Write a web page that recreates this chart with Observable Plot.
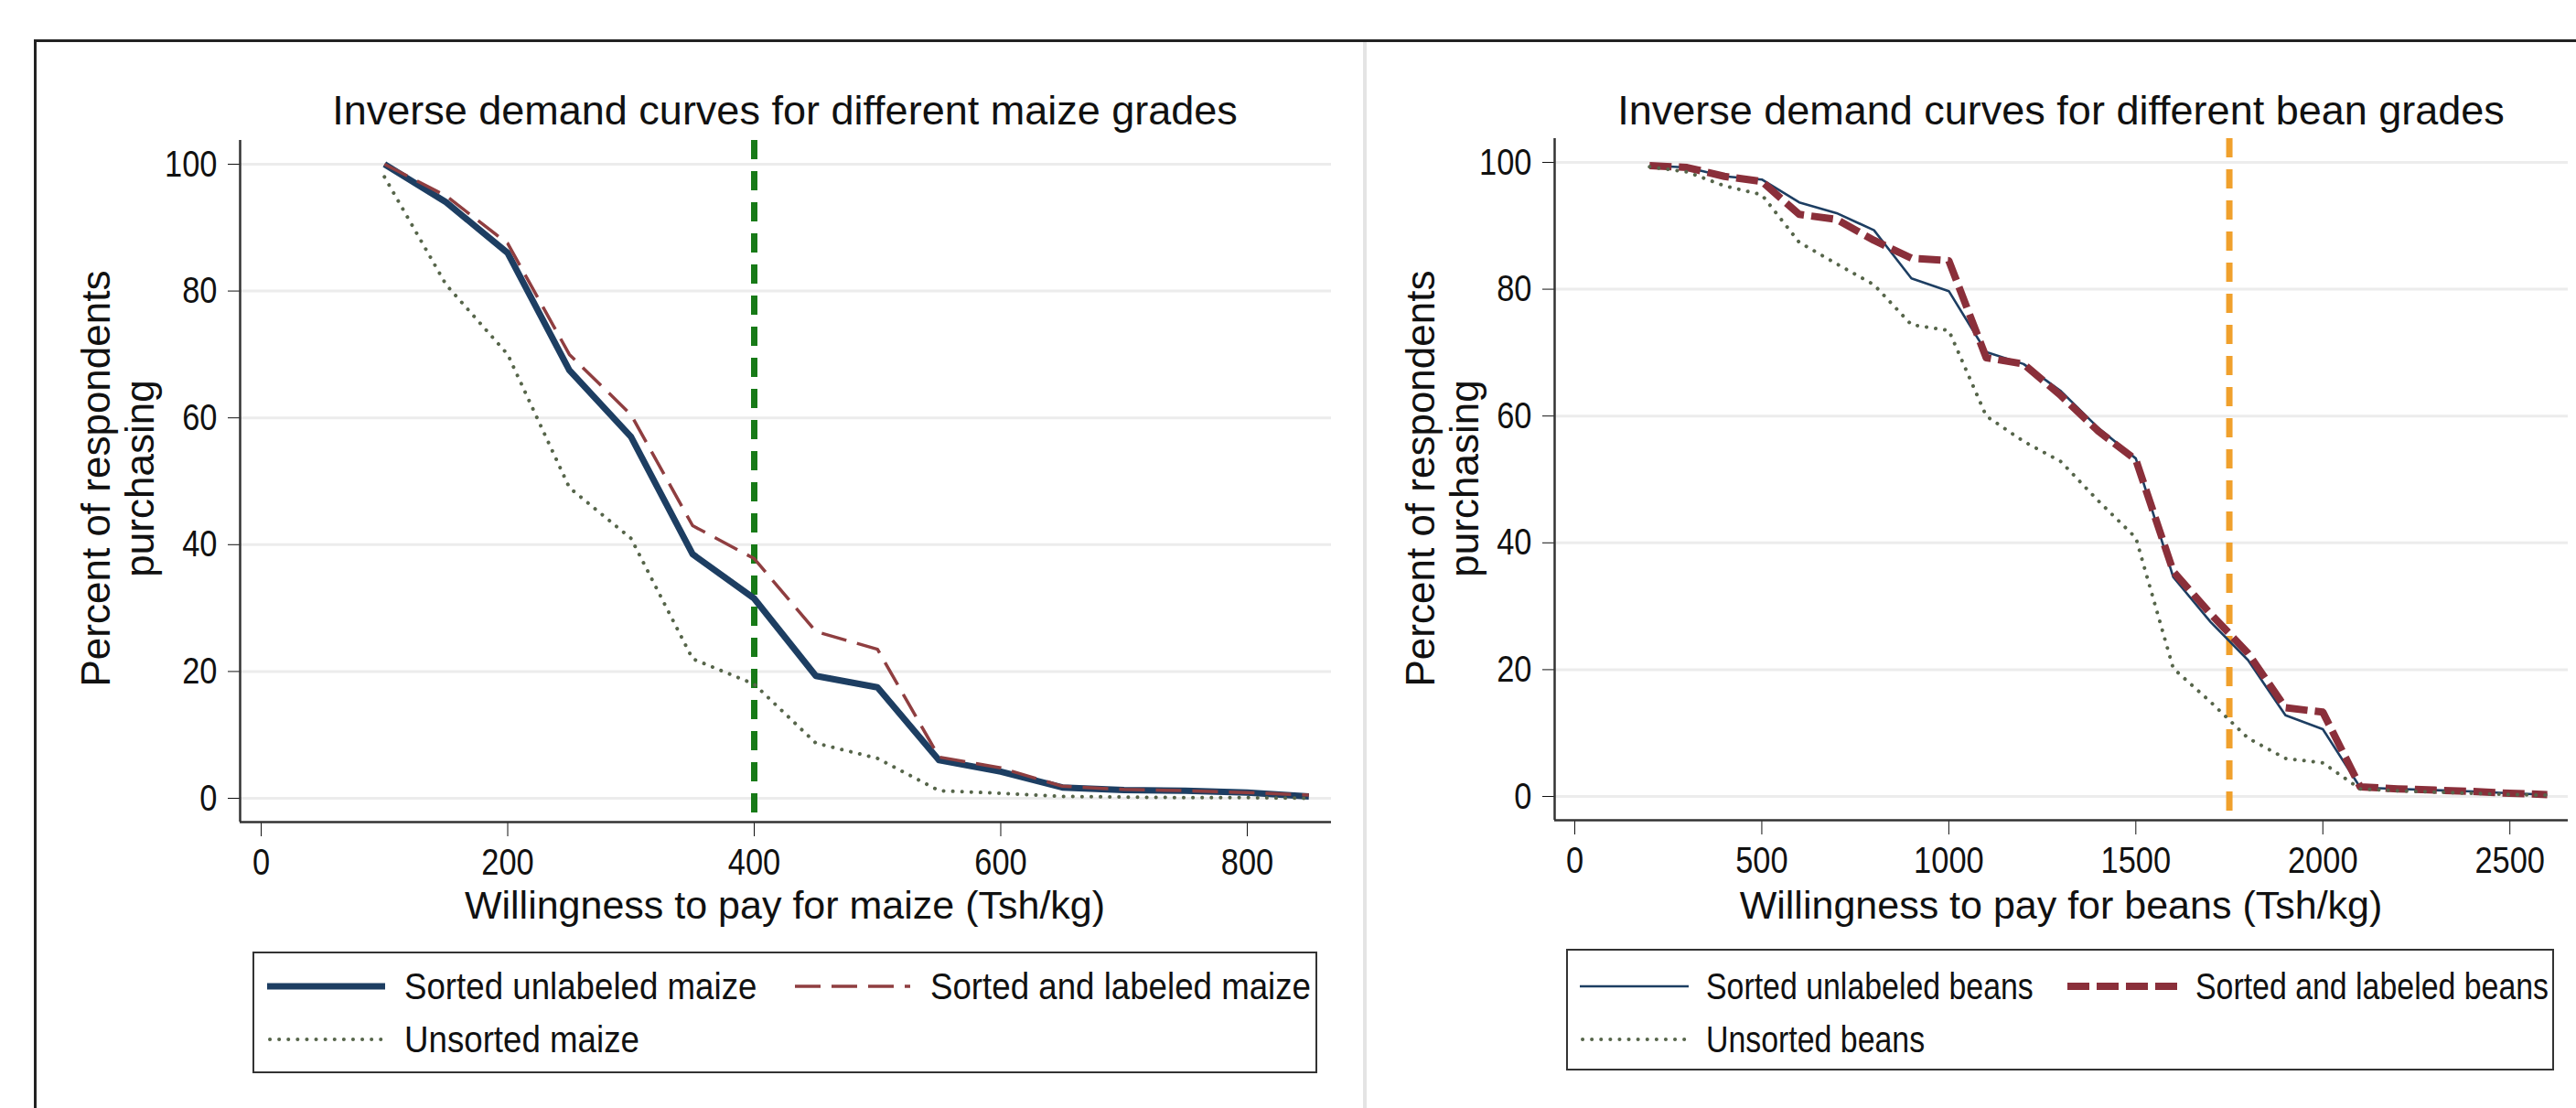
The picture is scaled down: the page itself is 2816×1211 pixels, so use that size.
<!DOCTYPE html>
<html>
<head>
<meta charset="utf-8">
<script src="https://cdn.jsdelivr.net/npm/d3@7"></script>
<script src="https://cdn.jsdelivr.net/npm/@observablehq/plot@0.6"></script>
<style>
  html, body { margin: 0; padding: 0; background: #fff; }
  #page { position: relative; width: 2816px; height: 1211px; background: #fff; overflow: hidden; }
  .abs { position: absolute; }
  .txt { font-family: "Liberation Sans", Arial, sans-serif; color: #111; white-space: nowrap; }
  .title { font-size: 45px; line-height: 45px; text-align: center; }
  .xtitle { font-size: 43px; line-height: 43px; text-align: center; }
  .ytitle { font-family: "Liberation Sans", Arial, sans-serif; font-size: 44px; line-height: 48px; text-align: center; color: #111; transform: rotate(-90deg); white-space: nowrap; }
  .legbox { border: 2.5px solid #333; box-sizing: border-box; }
</style>
</head>
<body>
<div id="page"></div>
<script>
// ---------------- data ----------------
const maizePrice = [100,150,200,250,300,350,400,450,500,550,600,650,700,750,800,850];
const maizeSortedUnlabeled = [100,94,86,67.5,57,38.5,31.5,19.3,17.5,6,4.2,1.7,1.3,1.2,0.9,0.3];
const maizeSortedLabeled   = [100,95,87.5,70,60.5,43,37.8,26.3,23.5,6.5,4.8,1.9,1.4,1.2,0.9,0.5];
const maizeUnsorted        = [98,81,70,49,41,22,18,8.7,6.3,1.2,0.8,0.3,0.2,0.1,0.1,0];

const beanPrice = [200,300,400,500,600,700,800,900,1000,1100,1200,1300,1400,1500,1600,1700,1800,1900,2000,2100,2200,2300,2400,2500,2600];
const beansSortedUnlabeled = [99.5,99.2,97.8,97.3,93.7,92,89.3,81.7,79.7,70.1,68.2,63.9,58.1,53.3,34.6,27.5,21.5,12.8,10.6,1.4,1.2,1.0,0.8,0.5,0.3];
const beansSortedLabeled   = [99.5,99.2,97.8,97,91.8,91,87.7,84.9,84.5,69.2,68.2,63.2,57.6,53.1,35.5,28.8,22.6,14,13.3,1.5,1.2,1.0,0.8,0.5,0.3];
const beansUnsorted        = [99.3,98.5,96.3,94.9,87.4,84,80.7,74.4,73.5,60,56,52.8,46.6,40.8,20.2,14.9,9.2,6,5.3,1.2,0.9,0.7,0.5,0.3,0.2];

const yTicks = [0,20,40,60,80,100];
const maizeTicks = [0,200,400,600,800];
const beanTicks = [0,500,1000,1500,2000,2500];
const maizeRef = [400];
const beanRef = [1750];

const maizeSeries = ["Sorted unlabeled maize","Sorted and labeled maize","Unsorted maize"];
const beanSeries = ["Sorted unlabeled beans","Sorted and labeled beans","Unsorted beans"];

const titles = ["Inverse demand curves for different maize grades","Inverse demand curves for different bean grades"];
const xTitles = ["Willingness to pay for maize (Tsh/kg)","Willingness to pay for beans (Tsh/kg)"];
const yTitle = ["Percent of respondents","purchasing"];

// ---------------- styles ----------------
const NAVY = "#1d3e62", MAROON = "#8a2f3a", DOT = "#56654a", GRID = "#ececec", AXIS = "#333";
const maizeStyles = [
  {stroke: NAVY, strokeWidth: 7, dash: null},
  {stroke: "#8f3e40", strokeWidth: 3.5, dash: "28,12"},
  {stroke: DOT, strokeWidth: 4, dash: "0.1,10"}
];
const beanStyles = [
  {stroke: NAVY, strokeWidth: 2.6, dash: null},
  {stroke: MAROON, strokeWidth: 8, dash: "24,8"},
  {stroke: DOT, strokeWidth: 4, dash: "0.1,10"}
];

const page = document.getElementById("page");

function tableOf(xs, ys, name) { return xs.map((x, i) => ({x, y: ys[i], name})); }

function panel(opts) {
  const {left, width, mL, mR, xDomain, xTicks, ref, refColor, seriesData, styles} = opts;
  const yDomain = [-3.75, 103.75];
  const marks = [
    Plot.ruleY(yTicks, {stroke: GRID, strokeWidth: 3}),
    Plot.ruleX(ref, {stroke: refColor, strokeWidth: 7, strokeDasharray: "21,13"}),
    ...seriesData.map((d, i) => Plot.line(d, {
      x: "x", y: "y", stroke: styles[i].stroke, strokeWidth: styles[i].strokeWidth,
      strokeDasharray: styles[i].dash, strokeLinecap: styles[i].dash && styles[i].dash.startsWith("0.1") ? "round" : "butt",
      strokeLinejoin: "round"
    })),
    Plot.ruleX([xDomain[0]], {stroke: AXIS, strokeWidth: 2.5}),
    Plot.ruleY([yDomain[0]], {stroke: AXIS, strokeWidth: 2.5})
  ];
  const svg = Plot.plot({
    width, height: 1211,
    marginLeft: mL, marginRight: mR, marginTop: opts.mT, marginBottom: 1211 - opts.bottom,
    style: {background: "transparent", fontFamily: '"Liberation Sans",Arial,sans-serif', fontSize: "41px", color: "#111", overflow: "visible"},
    x: {domain: xDomain, ticks: xTicks, tickSize: 16, tickPadding: 12, label: null, tickFormat: d => String(d)},
    y: {domain: yDomain, ticks: yTicks, tickSize: 13, tickPadding: 12, label: null, tickFormat: d => String(d)},
    marks
  });
  // condensed look of the tick labels (scale about each label's anchor)
  svg.querySelectorAll('g[aria-label$="tick label"] text').forEach(t => {
    const tr = t.getAttribute("transform") || "";
    t.setAttribute("transform", tr + " scale(0.84,1)");
  });
  svg.style.position = "absolute";
  svg.style.left = left + "px";
  svg.style.top = "0px";
  page.appendChild(svg);
}

function div(cls, css, html) {
  const e = document.createElement("div");
  e.className = cls;
  Object.assign(e.style, css);
  if (html != null) e.innerHTML = html;
  page.appendChild(e);
  return e;
}
// outer frame and panel divider
div("abs", {left: "38px", top: "43px", width: "2778px", height: "3px", background: "#222"});
div("abs", {left: "37px", top: "43px", width: "3px", height: "1168px", background: "#222"});
div("abs", {left: "1490px", top: "46px", width: "4px", height: "1165px", background: "#e4e4e4"});

panel({
  left: 0, width: 1490, mL: 262, mR: 35, mT: 153, bottom: 898,
  xDomain: [-17.1, 868.3], xTicks: maizeTicks, ref: maizeRef, refColor: "#177a17",
  seriesData: [tableOf(maizePrice, maizeSortedUnlabeled, maizeSeries[0]),
               tableOf(maizePrice, maizeSortedLabeled, maizeSeries[1]),
               tableOf(maizePrice, maizeUnsorted, maizeSeries[2])],
  styles: maizeStyles
});
panel({
  left: 1490, width: 1326, mL: 209, mR: 9, mT: 151, bottom: 896,
  xDomain: [-53.8, 2656], xTicks: beanTicks, ref: beanRef, refColor: "#f0a02c",
  seriesData: [tableOf(beanPrice, beansSortedUnlabeled, beanSeries[0]),
               tableOf(beanPrice, beansSortedLabeled, beanSeries[1]),
               tableOf(beanPrice, beansUnsorted, beanSeries[2])],
  styles: beanStyles
});

// titles
[[858, titles[0], xTitles[0], 129], [2253, titles[1], xTitles[1], 1577]].forEach(([cx, t, xt, ycx]) => {
  div("abs txt title", {left: (cx - 700) + "px", width: "1400px", top: "98px"}, t);
  div("abs txt xtitle", {left: (cx - 700) + "px", width: "1400px", top: "968px"}, xt);
  div("abs ytitle", {left: (ycx - 400) + "px", top: (523 - 48) + "px", width: "800px", height: "96px"}, yTitle.join("<br>"));
});

// legends
const ctx = document.createElement("canvas").getContext("2d");
function textWidth(s, size) { ctx.font = `${size}px "Liberation Sans", Arial, sans-serif`; return ctx.measureText(s).width; }

function swatch(x1, x2, cy, st) {
  const w = x2 - x1;
  const dash = st.dash ? `stroke-dasharray="${st.dash}"` : "";
  const cap = st.dash && st.dash.startsWith("0.1") ? "round" : "butt";
  div("abs", {left: x1 + "px", top: (cy - 10) + "px", width: w + "px", height: "20px"},
    `<svg width="${w}" height="20"><line x1="${cap === "round" ? 3 : 0}" x2="${w}" y1="10" y2="10" stroke="${st.stroke}" stroke-width="${st.strokeWidth}" ${dash} stroke-linecap="${cap}"/></svg>`);
}
function legend(box, cols, names, styles, col2Target) {
  div("abs legbox", {left: box[0] + "px", top: box[1] + "px", width: (box[2] - box[0]) + "px", height: (box[3] - box[1]) + "px"});
  const size = 41;
  // horizontal squeeze so the labels take the same width as in the reference
  const sx = Math.min(1, col2Target / textWidth(names[1], size));
  const rows = [1078, 1136];
  const pos = [[cols[0], rows[0]], [cols[1], rows[0]], [cols[0], rows[1]]];
  names.forEach((n, i) => {
    const [c, cy] = pos[i];
    swatch(c[0], c[1], cy, styles[i]);
    div("abs txt", {left: c[2] + "px", top: (cy - size / 2) + "px", fontSize: size + "px", lineHeight: size + "px",
      transform: `scaleX(${sx})`, transformOrigin: "0 50%"}, n);
  });
}
legend([276, 1040, 1440, 1173], [[292, 421, 442], [869, 995, 1017]], maizeSeries, maizeStyles, 416);
legend([1712, 1037, 2792, 1170], [[1727, 1846, 1865], [2260, 2381, 2400]], beanSeries, beanStyles, 386);
</script>
</body>
</html>
